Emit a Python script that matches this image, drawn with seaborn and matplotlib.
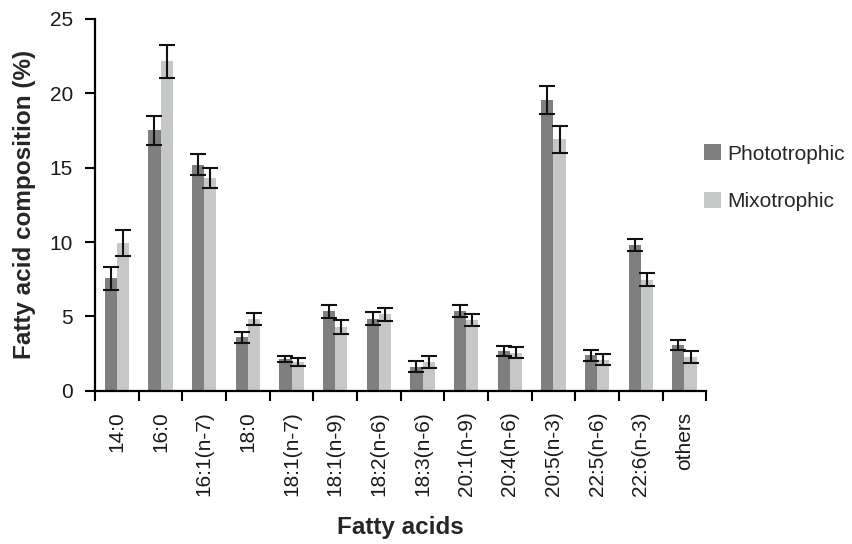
import matplotlib
matplotlib.use("Agg")
import matplotlib.pyplot as plt
import seaborn as sns
import pandas as pd
import numpy as np
from matplotlib.ticker import FixedLocator

categories = ["14:0", "16:0", "16:1(n-7)", "18:0", "18:1(n-7)", "18:1(n-9)", "18:2(n-6)",
              "18:3(n-6)", "20:1(n-9)", "20:4(n-6)", "20:5(n-3)", "22:5(n-6)", "22:6(n-3)", "others"]
photo = [7.55, 17.5, 15.2, 3.6, 2.15, 5.35, 4.85, 1.62, 5.35, 2.7, 19.55, 2.38, 9.8, 3.08]
photo_err = [0.78, 0.95, 0.7, 0.36, 0.22, 0.45, 0.43, 0.38, 0.4, 0.33, 0.95, 0.38, 0.43, 0.31]
mixo = [9.95, 22.15, 14.3, 4.85, 1.93, 4.3, 5.15, 1.93, 4.75, 2.55, 16.9, 2.1, 7.47, 2.3]
mixo_err = [0.87, 1.1, 0.67, 0.4, 0.27, 0.45, 0.45, 0.42, 0.4, 0.37, 0.9, 0.36, 0.42, 0.4]
series = ["Phototrophic", "Mixotrophic"]
colors = ["#7f7f7f", "#c6c7c7"]

df = pd.DataFrame({
    "acid": categories * 2,
    "value": photo + mixo,
    "err": photo_err + mixo_err,
    "group": [series[0]] * len(categories) + [series[1]] * len(categories),
})

sns.set_style("white")
plt.rcParams["font.family"] = ["Liberation Sans", "DejaVu Sans"]

fig = plt.figure(figsize=(8.53, 5.44), dpi=100)
ax = fig.add_axes([0.1115, 0.2815, 0.7165, 0.684])

sns.barplot(data=df, x="acid", y="value", hue="group", order=categories,
            hue_order=series, palette=colors, width=0.56, errorbar=None,
            saturation=1, linewidth=0, ax=ax)

# error bars at bar centres
for cont, vals, errs in zip(ax.containers, [photo, mixo], [photo_err, mixo_err]):
    xs = [p.get_x() + p.get_width() / 2 for p in cont.patches]
    ax.errorbar(xs, vals, yerr=errs, fmt="none", ecolor="#111111",
                elinewidth=1.5, capsize=5.5, capthick=1.5, zorder=5)

ax.set_ylim(0, 25)
ax.set_xlim(-0.5, len(categories) - 0.5)
ax.set_yticks(np.arange(0, 26, 5))
ax.tick_params(axis="y", which="major", direction="out", length=7, width=1.5,
               labelsize=15, pad=9, left=True, color="black", labelcolor="#1a1a1a")
ax.tick_params(axis="x", which="major", length=0, labelsize=15, pad=15,
               labelcolor="#1a1a1a")
ax.xaxis.set_minor_locator(FixedLocator(np.arange(-0.5, len(categories), 1.0)))
ax.tick_params(axis="x", which="minor", direction="out", length=7, width=1.5,
               bottom=True, color="black")
for lab in ax.get_xticklabels():
    lab.set_rotation(90)
    lab.set_va("top")
    lab.set_ha("center")

for s in ["top", "right"]:
    ax.spines[s].set_visible(False)
for s in ["left", "bottom"]:
    ax.spines[s].set_linewidth(1.6)
    ax.spines[s].set_color("black")

ax.set_xlabel("Fatty acids", fontsize=17.5, fontweight="bold", labelpad=14)
ax.set_ylabel("Fatty acid composition (%)", fontsize=17.5, fontweight="bold", labelpad=10)

ax.legend(title=None, frameon=False, fontsize=15, loc="upper left",
          bbox_to_anchor=(0.816, 0.75), bbox_transform=fig.transFigure,
          handlelength=0.8, handleheight=0.8, handletextpad=0.3, labelspacing=1.35,
          borderaxespad=0)

fig.savefig("out.png", dpi=100)
